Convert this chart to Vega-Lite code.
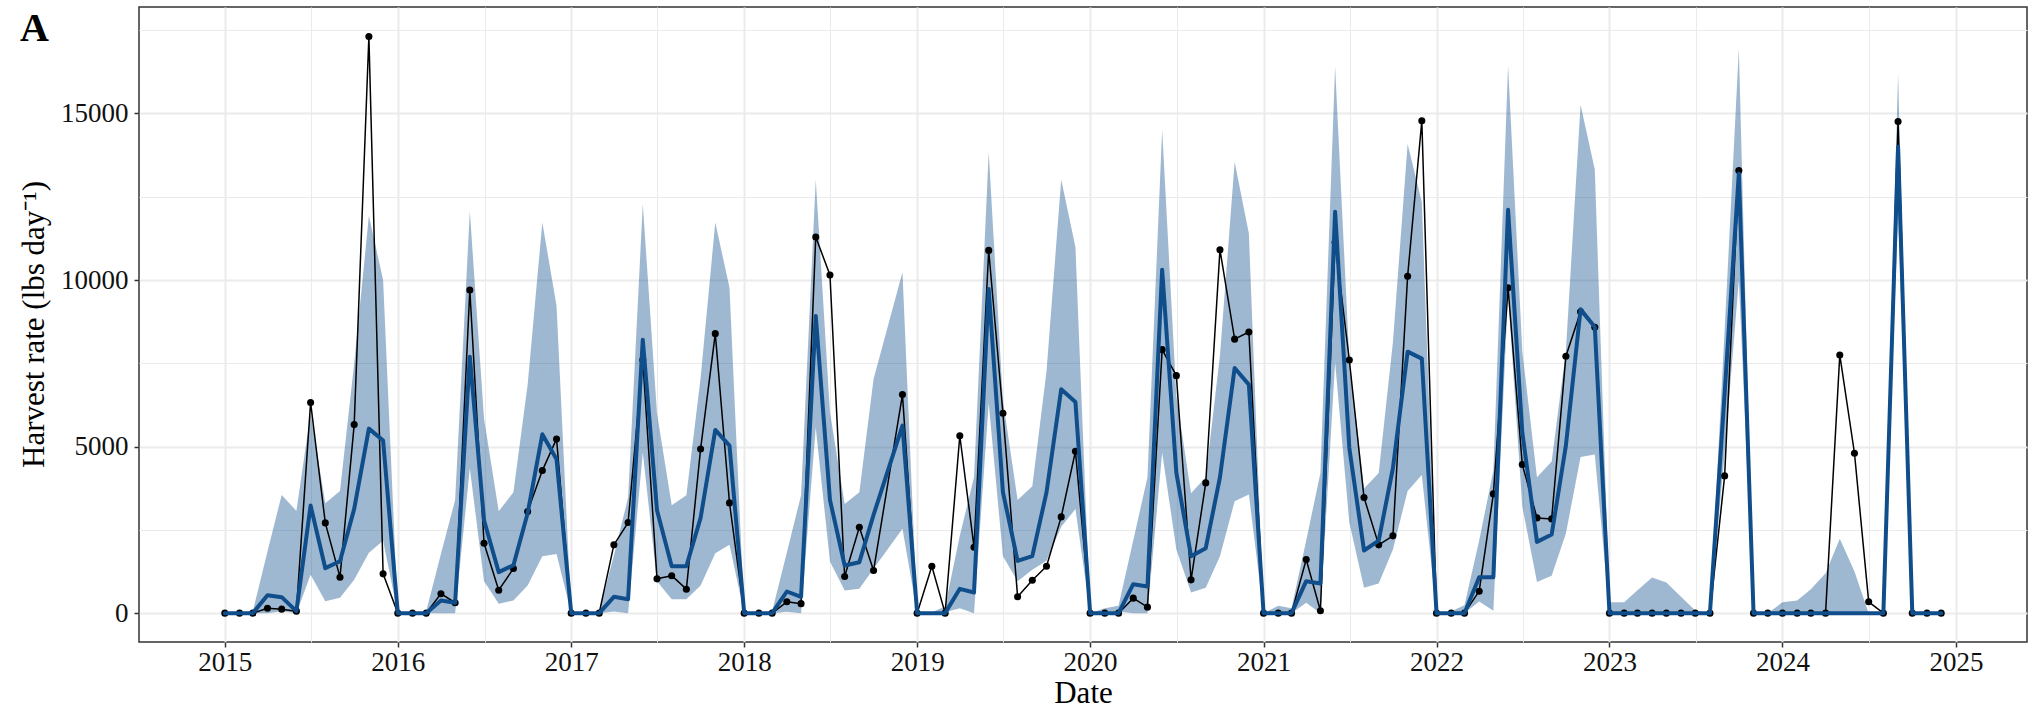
{
"$schema":"https://vega.github.io/schema/vega-lite/v6.json",
"width":1888,"height":635,
"autosize":"none",
"padding":{"left":139,"top":7,"right":1,"bottom":66},
"background":"white",
"config":{"view":{"stroke":"#333333","strokeWidth":1.5},"font":"Liberation Serif"},
"title":{"text":"A","anchor":"start","frame":"group","orient":"top","font":"Liberation Serif","fontSize":40,"fontWeight":"bold","color":"black","offset":-38,"dx":-119,"dy":36,"baseline":"alphabetic"},
"data":{"values":[
{"d":"2015-01-01","obs":0,"fit":0,"lo":0,"hi":0},
{"d":"2015-02-01","obs":0,"fit":0,"lo":0,"hi":0},
{"d":"2015-03-01","obs":0,"fit":0,"lo":0,"hi":50},
{"d":"2015-04-01","obs":145,"fit":540,"lo":0,"hi":1850},
{"d":"2015-05-01","obs":120,"fit":480,"lo":60,"hi":3550},
{"d":"2015-06-01","obs":60,"fit":60,"lo":0,"hi":3070},
{"d":"2015-07-01","obs":6320,"fit":3230,"lo":1150,"hi":6000},
{"d":"2015-08-01","obs":2710,"fit":1350,"lo":360,"hi":3300},
{"d":"2015-09-01","obs":1080,"fit":1560,"lo":460,"hi":3670},
{"d":"2015-10-01","obs":5660,"fit":3130,"lo":1000,"hi":7500},
{"d":"2015-11-01","obs":17310,"fit":5540,"lo":1810,"hi":11930},
{"d":"2015-12-01","obs":1180,"fit":5180,"lo":2170,"hi":10000},
{"d":"2016-01-01","obs":0,"fit":0,"lo":0,"hi":0},
{"d":"2016-02-01","obs":0,"fit":0,"lo":0,"hi":0},
{"d":"2016-03-01","obs":0,"fit":0,"lo":0,"hi":60},
{"d":"2016-04-01","obs":583,"fit":380,"lo":0,"hi":1775},
{"d":"2016-05-01","obs":312,"fit":312,"lo":0,"hi":3400},
{"d":"2016-06-01","obs":9700,"fit":7700,"lo":4350,"hi":12070},
{"d":"2016-07-01","obs":2100,"fit":2790,"lo":960,"hi":5840},
{"d":"2016-08-01","obs":690,"fit":1230,"lo":285,"hi":3060},
{"d":"2016-09-01","obs":1340,"fit":1440,"lo":380,"hi":3630},
{"d":"2016-10-01","obs":3050,"fit":3000,"lo":830,"hi":6860},
{"d":"2016-11-01","obs":4280,"fit":5370,"lo":1710,"hi":11730},
{"d":"2016-12-01","obs":5230,"fit":4620,"lo":1775,"hi":9230},
{"d":"2017-01-01","obs":0,"fit":0,"lo":0,"hi":0},
{"d":"2017-02-01","obs":0,"fit":0,"lo":0,"hi":0},
{"d":"2017-03-01","obs":0,"fit":0,"lo":0,"hi":60},
{"d":"2017-04-01","obs":2050,"fit":490,"lo":50,"hi":1730},
{"d":"2017-05-01","obs":2720,"fit":420,"lo":0,"hi":3470},
{"d":"2017-06-01","obs":7600,"fit":8210,"lo":4820,"hi":12280},
{"d":"2017-07-01","obs":1030,"fit":3090,"lo":960,"hi":6000},
{"d":"2017-08-01","obs":1125,"fit":1410,"lo":420,"hi":3240},
{"d":"2017-09-01","obs":720,"fit":1410,"lo":420,"hi":3540},
{"d":"2017-10-01","obs":4930,"fit":2860,"lo":830,"hi":7060},
{"d":"2017-11-01","obs":8390,"fit":5500,"lo":1800,"hi":11730},
{"d":"2017-12-01","obs":3310,"fit":5030,"lo":2050,"hi":9770},
{"d":"2018-01-01","obs":0,"fit":0,"lo":0,"hi":0},
{"d":"2018-02-01","obs":0,"fit":0,"lo":0,"hi":0},
{"d":"2018-03-01","obs":0,"fit":0,"lo":0,"hi":60},
{"d":"2018-04-01","obs":340,"fit":650,"lo":40,"hi":1820},
{"d":"2018-05-01","obs":285,"fit":490,"lo":0,"hi":3540},
{"d":"2018-06-01","obs":11290,"fit":8920,"lo":5570,"hi":13020},
{"d":"2018-07-01","obs":10150,"fit":3400,"lo":1550,"hi":6030},
{"d":"2018-08-01","obs":1100,"fit":1430,"lo":680,"hi":3280},
{"d":"2018-09-01","obs":2580,"fit":1530,"lo":730,"hi":3630},
{"d":"2018-10-01","obs":1280,"fit":2950,"lo":1330,"hi":7030},
{"d":"2018-12-01","obs":6560,"fit":5630,"lo":2530,"hi":10230},
{"d":"2019-01-01","obs":0,"fit":0,"lo":0,"hi":0},
{"d":"2019-02-01","obs":1410,"fit":0,"lo":0,"hi":30},
{"d":"2019-03-01","obs":0,"fit":0,"lo":30,"hi":200},
{"d":"2019-04-01","obs":5325,"fit":730,"lo":150,"hi":2320},
{"d":"2019-05-01","obs":1980,"fit":620,"lo":0,"hi":4080},
{"d":"2019-06-01","obs":10890,"fit":9730,"lo":6310,"hi":13840},
{"d":"2019-07-01","obs":6000,"fit":3630,"lo":1710,"hi":6380},
{"d":"2019-08-01","obs":490,"fit":1570,"lo":960,"hi":3400},
{"d":"2019-09-01","obs":990,"fit":1710,"lo":1300,"hi":3810},
{"d":"2019-10-01","obs":1410,"fit":3630,"lo":1570,"hi":7260},
{"d":"2019-11-01","obs":2890,"fit":6720,"lo":2590,"hi":13020},
{"d":"2019-12-01","obs":4860,"fit":6340,"lo":3130,"hi":10990},
{"d":"2020-01-01","obs":0,"fit":0,"lo":0,"hi":0},
{"d":"2020-02-01","obs":0,"fit":0,"lo":0,"hi":150},
{"d":"2020-03-01","obs":0,"fit":0,"lo":50,"hi":220},
{"d":"2020-04-01","obs":450,"fit":870,"lo":0,"hi":2180},
{"d":"2020-05-01","obs":180,"fit":800,"lo":0,"hi":4080},
{"d":"2020-06-01","obs":7910,"fit":10310,"lo":4820,"hi":14510},
{"d":"2020-07-01","obs":7130,"fit":4210,"lo":1910,"hi":6520},
{"d":"2020-08-01","obs":1000,"fit":1710,"lo":620,"hi":3600},
{"d":"2020-09-01","obs":3910,"fit":1950,"lo":760,"hi":4080},
{"d":"2020-10-01","obs":10910,"fit":4080,"lo":1710,"hi":7740},
{"d":"2020-11-01","obs":8225,"fit":7360,"lo":3360,"hi":13540},
{"d":"2020-12-01","obs":8440,"fit":6860,"lo":3560,"hi":11400},
{"d":"2021-01-01","obs":0,"fit":0,"lo":0,"hi":0},
{"d":"2021-02-01","obs":0,"fit":0,"lo":0,"hi":220},
{"d":"2021-03-01","obs":0,"fit":0,"lo":0,"hi":150},
{"d":"2021-04-01","obs":1610,"fit":960,"lo":310,"hi":2180},
{"d":"2021-05-01","obs":70,"fit":890,"lo":0,"hi":4210},
{"d":"2021-06-01","obs":11130,"fit":12050,"lo":7530,"hi":16410},
{"d":"2021-07-01","obs":7600,"fit":4960,"lo":2720,"hi":7600},
{"d":"2021-08-01","obs":3470,"fit":1880,"lo":760,"hi":3740},
{"d":"2021-09-01","obs":2050,"fit":2180,"lo":890,"hi":4210},
{"d":"2021-10-01","obs":2320,"fit":4350,"lo":1910,"hi":8140},
{"d":"2021-11-01","obs":10110,"fit":7850,"lo":3670,"hi":14080},
{"d":"2021-12-01","obs":14780,"fit":7640,"lo":4150,"hi":12340},
{"d":"2022-01-01","obs":0,"fit":0,"lo":0,"hi":0},
{"d":"2022-02-01","obs":0,"fit":0,"lo":0,"hi":60},
{"d":"2022-03-01","obs":0,"fit":0,"lo":0,"hi":240},
{"d":"2022-04-01","obs":660,"fit":1080,"lo":350,"hi":2180},
{"d":"2022-05-01","obs":3580,"fit":1080,"lo":70,"hi":4280},
{"d":"2022-06-01","obs":9770,"fit":12110,"lo":9570,"hi":16440},
{"d":"2022-07-01","obs":4460,"fit":5430,"lo":3200,"hi":7870},
{"d":"2022-08-01","obs":2860,"fit":2140,"lo":935,"hi":4080},
{"d":"2022-09-01","obs":2830,"fit":2360,"lo":1125,"hi":4550},
{"d":"2022-10-01","obs":7710,"fit":5030,"lo":2390,"hi":7870},
{"d":"2022-11-01","obs":9050,"fit":9120,"lo":4690,"hi":15260},
{"d":"2022-12-01","obs":8580,"fit":8590,"lo":4760,"hi":13320},
{"d":"2023-01-01","obs":0,"fit":0,"lo":0,"hi":325},
{"d":"2023-02-01","obs":0,"fit":0,"lo":0,"hi":325},
{"d":"2023-03-01","obs":0,"fit":0,"lo":0,"hi":690},
{"d":"2023-04-01","obs":0,"fit":0,"lo":0,"hi":1070},
{"d":"2023-05-01","obs":0,"fit":0,"lo":0,"hi":920},
{"d":"2023-06-01","obs":0,"fit":0,"lo":0,"hi":490},
{"d":"2023-07-01","obs":0,"fit":0,"lo":0,"hi":80},
{"d":"2023-08-01","obs":0,"fit":0,"lo":0,"hi":0},
{"d":"2023-09-01","obs":4120,"fit":6600,"lo":4800,"hi":8500},
{"d":"2023-10-01","obs":13290,"fit":13200,"lo":10000,"hi":16950},
{"d":"2023-11-01","obs":0,"fit":0,"lo":0,"hi":0},
{"d":"2023-12-01","obs":0,"fit":0,"lo":0,"hi":0},
{"d":"2024-01-01","obs":0,"fit":0,"lo":0,"hi":325},
{"d":"2024-02-01","obs":0,"fit":0,"lo":0,"hi":380},
{"d":"2024-03-01","obs":0,"fit":0,"lo":0,"hi":720},
{"d":"2024-04-01","obs":0,"fit":0,"lo":0,"hi":1200},
{"d":"2024-05-01","obs":7750,"fit":0,"lo":0,"hi":2230},
{"d":"2024-06-01","obs":4800,"fit":0,"lo":0,"hi":1250},
{"d":"2024-07-01","obs":340,"fit":0,"lo":0,"hi":0},
{"d":"2024-08-01","obs":0,"fit":0,"lo":0,"hi":0},
{"d":"2024-09-01","obs":14760,"fit":14000,"lo":12000,"hi":16200},
{"d":"2024-10-01","obs":0,"fit":0,"lo":0,"hi":0},
{"d":"2024-11-01","obs":0,"fit":0,"lo":0,"hi":0},
{"d":"2024-12-01","obs":0,"fit":0,"lo":0,"hi":0}
]},
"encoding":{
 "x":{"field":"d","type":"temporal","title":"Date",
  "scale":{"type":"utc","domain":[{"year":2014,"month":7,"date":3,"hours":21,"utc":true},{"year":2025,"month":5,"date":31,"hours":2,"utc":true}]},
  "axis":{
   "values":[
    {"year":2015,"month":1,"date":1,"utc":true},{"year":2015,"month":7,"date":2,"utc":true},
    {"year":2016,"month":1,"date":1,"utc":true},{"year":2016,"month":7,"date":2,"utc":true},
    {"year":2017,"month":1,"date":1,"utc":true},{"year":2017,"month":7,"date":2,"utc":true},
    {"year":2018,"month":1,"date":1,"utc":true},{"year":2018,"month":7,"date":2,"utc":true},
    {"year":2019,"month":1,"date":1,"utc":true},{"year":2019,"month":7,"date":2,"utc":true},
    {"year":2020,"month":1,"date":1,"utc":true},{"year":2020,"month":7,"date":2,"utc":true},
    {"year":2021,"month":1,"date":1,"utc":true},{"year":2021,"month":7,"date":2,"utc":true},
    {"year":2022,"month":1,"date":1,"utc":true},{"year":2022,"month":7,"date":2,"utc":true},
    {"year":2023,"month":1,"date":1,"utc":true},{"year":2023,"month":7,"date":2,"utc":true},
    {"year":2024,"month":1,"date":1,"utc":true},{"year":2024,"month":7,"date":2,"utc":true},
    {"year":2025,"month":1,"date":1,"utc":true}],
   "labelExpr":"utcmonth(datum.value) === 0 ? utcFormat(datum.value, '%Y') : ''",
   "grid":true,"gridColor":"#EBEBEB",
   "gridWidth":{"condition":{"test":"utcmonth(datum.value) === 0","value":2},"value":1},
   "tickOpacity":{"condition":{"test":"utcmonth(datum.value) === 0","value":1},"value":0},
   "tickColor":"#333333","tickSize":5,"tickWidth":1.5,"domain":false,
   "labelFont":"Liberation Serif","labelFontSize":27,"labelColor":"#111111","labelPadding":23,"labelBaseline":"alphabetic",
   "labelOverlap":false,"labelFlush":false,"labelBound":false,
   "titleFont":"Liberation Serif","titleFontSize":31,"titleFontWeight":"normal","titleColor":"black","titleY":60,"titleBaseline":"alphabetic"
  }}
},
"layer":[
 {"mark":{"type":"area","color":"#104E8B","opacity":0.4},
  "encoding":{
   "y":{"field":"lo","type":"quantitative","title":"Harvest rate (lbs day⁻¹)",
    "scale":{"domain":[-866,18196],"nice":false,"zero":false},
    "axis":{"values":[0,2500,5000,7500,10000,12500,15000,17500],
     "labelExpr":"datum.value % 5000 === 0 ? format(datum.value, 'd') : ''",
     "grid":true,"gridColor":"#EBEBEB",
     "gridWidth":{"condition":{"test":"datum.value % 5000 === 0","value":2},"value":1},
     "tickOpacity":{"condition":{"test":"datum.value % 5000 === 0","value":1},"value":0},
     "tickColor":"#333333","tickSize":5,"tickWidth":1.5,"domain":false,
     "labelFont":"Liberation Serif","labelFontSize":27,"labelColor":"#111111","labelPadding":6,"labelBaseline":"middle",
     "labelOverlap":false,"labelFlush":false,"labelBound":false,
     "titleFont":"Liberation Serif","titleFontSize":31,"titleFontWeight":"normal","titleColor":"black",
     "titleX":-96,"titleY":317,"titleAngle":-90,"titleBaseline":"alphabetic","titleAlign":"center"}},
   "y2":{"field":"hi"}}},
 {"mark":{"type":"line","color":"black","strokeWidth":1.5,"strokeJoin":"round"},
  "encoding":{"y":{"field":"obs","type":"quantitative","title":"Harvest rate (lbs day⁻¹)"}}},
 {"mark":{"type":"point","filled":true,"color":"black","size":50,"opacity":1},
  "encoding":{"y":{"field":"obs","type":"quantitative","title":"Harvest rate (lbs day⁻¹)"}}},
 {"mark":{"type":"line","color":"#104E8B","strokeWidth":4,"strokeJoin":"round","strokeCap":"round"},
  "encoding":{"y":{"field":"fit","type":"quantitative","title":"Harvest rate (lbs day⁻¹)"}}}
]
}
